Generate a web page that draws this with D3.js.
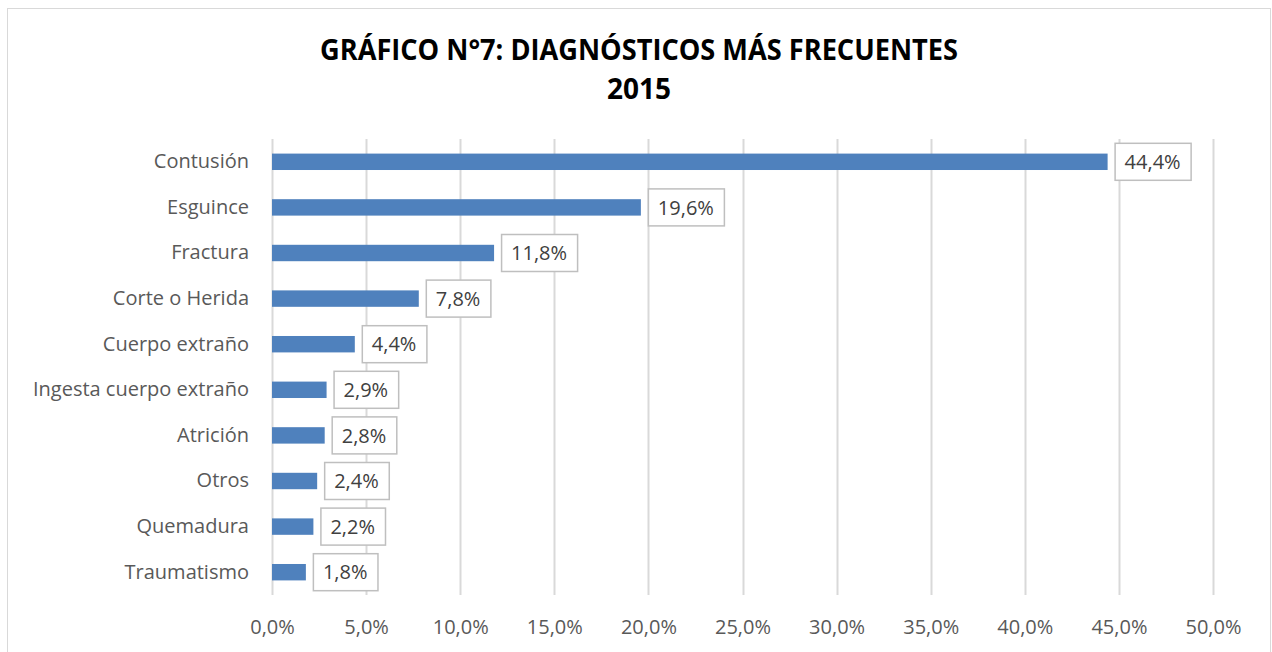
<!DOCTYPE html>
<html>
<head>
<meta charset="utf-8">
<script src="https://cdn.jsdelivr.net/npm/d3@7"></script>
<style>
  body { margin: 0; background: #fff; }
  svg { display: block; font-family: "Open Sans", "Liberation Sans", sans-serif; }
</style>
</head>
<body>
<div id="chart"></div>
<script>
const titleLines = ['GRÁFICO N°7: DIAGNÓSTICOS MÁS FRECUENTES', '2015'];
const categories = ['Contusión', 'Esguince', 'Fractura', 'Corte o Herida', 'Cuerpo extraño',
    'Ingesta cuerpo extraño', 'Atrición', 'Otros', 'Quemadura', 'Traumatismo'];
const values = [44.4, 19.6, 11.8, 7.8, 4.4, 2.9, 2.8, 2.4, 2.2, 1.8];
const xTicks = [0, 5, 10, 15, 20, 25, 30, 35, 40, 45, 50];

const W = 1272, H = 652;
const margin = { top: 139, right: 59, bottom: 57, left: 272 };
const width = W - margin.left - margin.right;
const height = H - margin.top - margin.bottom;
const fmt = v => v.toFixed(1).replace('.', ',') + '%';

const svg = d3.select('#chart').append('svg')
    .attr('width', W)
    .attr('height', H);

// chart frame (bottom edge falls outside the picture)
svg.append('rect')
    .attr('x', 7.5).attr('y', 8.5)
    .attr('width', 1263).attr('height', 660)
    .attr('fill', 'none')
    .attr('stroke', '#d9d9d9');

// title
const title = svg.append('text')
    .attr('x', 639)
    .attr('text-anchor', 'middle')
    .attr('font-weight', 700)
    .attr('font-size', 28)
    .attr('fill', '#000');
title.selectAll('tspan').data(titleLines).join('tspan')
    .attr('x', 639)
    .attr('y', (d, i) => 60 + i * 39)
    .text(d => d);
// squeeze first line to the reference width
const t0 = title.select('tspan').node();
if (t0.getComputedTextLength() > 638) {
    title.select('tspan').attr('textLength', 638).attr('lengthAdjust', 'spacingAndGlyphs');
}

const g = svg.append('g')
    .attr('transform', `translate(${margin.left},${margin.top})`);

const x = d3.scaleLinear().domain([0, 50]).range([0, width]);
const y = d3.scaleBand().domain(categories).range([0, height]).paddingInner(0.64).paddingOuter(0.32);

// gridlines
g.selectAll('.grid').data(xTicks).join('line')
    .attr('class', 'grid')
    .attr('x1', d => Math.round(x(d)) + 0.5)
    .attr('x2', d => Math.round(x(d)) + 0.5)
    .attr('y1', 0).attr('y2', height)
    .attr('stroke', '#d9d9d9')
    .attr('stroke-width', 2);

// x axis labels
const xAxis = g.append('g')
    .attr('transform', `translate(0,${height})`)
    .call(d3.axisBottom(x).tickValues(xTicks).tickFormat(d => fmt(d)).tickSize(0).tickPadding(25));
xAxis.select('.domain').remove();
xAxis.selectAll('text')
    .attr('font-family', '"Open Sans", "Liberation Sans", sans-serif')
    .attr('font-size', 20)
    .attr('fill', '#595959');

// y axis labels
const yAxis = g.append('g')
    .call(d3.axisLeft(y).tickSize(0).tickPadding(23));
yAxis.select('.domain').remove();
yAxis.selectAll('text')
    .attr('font-family', '"Open Sans", "Liberation Sans", sans-serif')
    .attr('font-size', 20)
    .attr('fill', '#595959');

// bars
g.selectAll('.bar').data(values).join('rect')
    .attr('class', 'bar')
    .attr('x', 0)
    .attr('y', (d, i) => y(categories[i]))
    .attr('width', d => x(d))
    .attr('height', y.bandwidth())
    .attr('fill', '#4f81bd');

// data labels in boxes
const lbl = g.selectAll('.lbl').data(values).join('g')
    .attr('class', 'lbl')
    .attr('transform', (d, i) => `translate(${x(d) + 7},${y(categories[i]) + y.bandwidth() / 2})`);
lbl.append('text')
    .attr('x', 10)
    .attr('dy', '0.36em')
    .attr('font-size', 20)
    .attr('fill', '#404040')
    .text(d => fmt(d));
lbl.each(function () {
    const sel = d3.select(this);
    const tw = sel.select('text').node().getComputedTextLength();
    sel.insert('rect', 'text')
        .attr('x', 0.5).attr('y', -18.5)
        .attr('width', tw + 20).attr('height', 37)
        .attr('fill', '#fff')
        .attr('stroke', '#bfbfbf')
        .attr('stroke-width', 1.5);
});
</script>
</body>
</html>
